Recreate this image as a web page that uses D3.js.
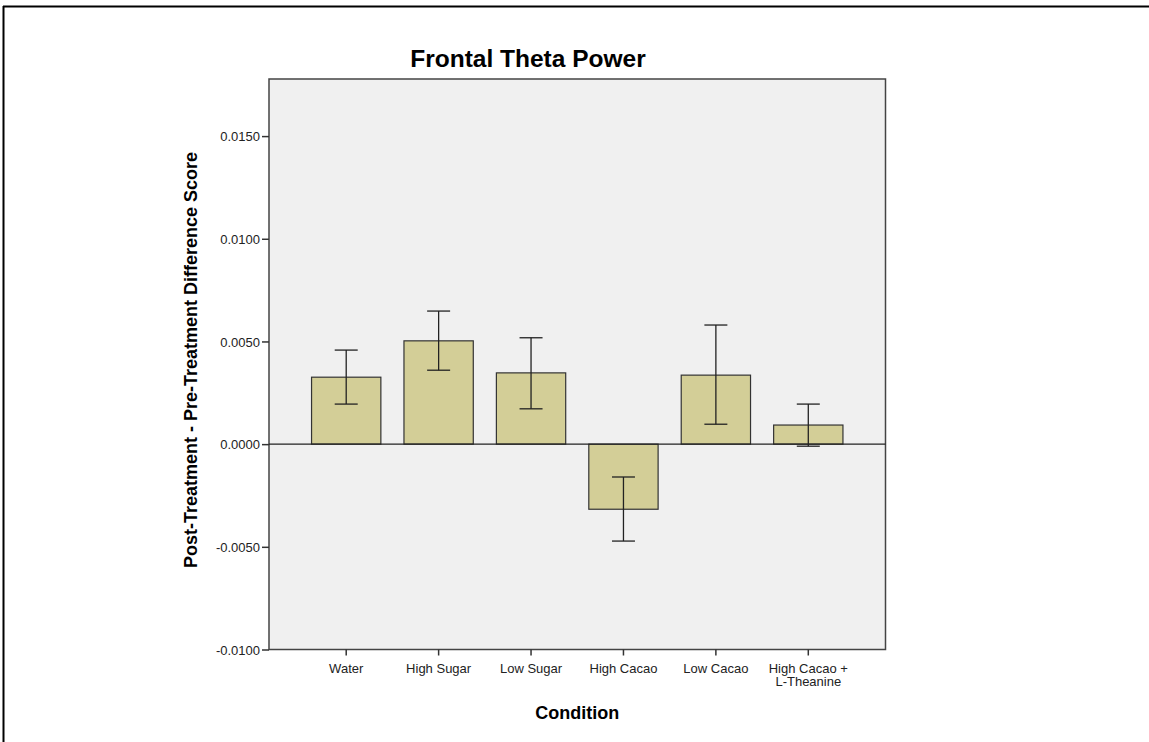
<!DOCTYPE html>
<html><head><meta charset="utf-8">
<script src="https://cdn.jsdelivr.net/npm/d3@7"></script>
<style>body{margin:0;background:#fff}svg{display:block}</style>
</head><body>
<script>
const categories = ["Water","High Sugar","Low Sugar","High Cacao","Low Cacao","High Cacao +\nL-Theanine"];
const means = [0.00326, 0.00503, 0.00347, -0.00317, 0.00336, 0.00093];
const errLow = [0.00195, 0.00360, 0.00172, -0.00472, 0.00097, -0.00010];
const errHigh = [0.00458, 0.00648, 0.00518, -0.00160, 0.00580, 0.00195];
const yTicks = [-0.0100, -0.0050, 0.0000, 0.0050, 0.0100, 0.0150];

const W = 1149, H = 742;
const svg = d3.select("body").append("svg").attr("width", W).attr("height", H);
const L = 269, R = 885.5, T = 79, B = 649.5;
const font = "Liberation Sans, Arial, sans-serif";

// outer border (top + left)
svg.append("line").attr("x1",3).attr("x2",W).attr("y1",6.5).attr("y2",6.5).attr("stroke","#000").attr("stroke-width",2);
svg.append("line").attr("x1",3.5).attr("x2",3.5).attr("y1",6).attr("y2",H).attr("stroke","#000").attr("stroke-width",2);

const y = d3.scaleLinear().domain([-0.0100, 0.01778]).range([B, T]);
const x = d3.scaleBand().domain(categories).range([L + 31, R - 31]).paddingInner(0.25).paddingOuter(0.125);

svg.append("rect").attr("x",L).attr("y",T).attr("width",R-L).attr("height",B-T)
  .attr("fill","#f0f0f0").attr("stroke","#444").attr("stroke-width",1.5);

const g = svg.append("g");
g.selectAll("rect.bar").data(categories).join("rect").attr("class","bar")
  .attr("x", d => x(d)).attr("width", x.bandwidth())
  .attr("y", (d,i) => y(Math.max(0, means[i])))
  .attr("height", (d,i) => Math.abs(y(means[i]) - y(0)))
  .attr("fill","#d3ce97").attr("stroke","#333").attr("stroke-width",1.2);

// zero line
svg.append("line").attr("x1",L).attr("x2",R).attr("y1",y(0)).attr("y2",y(0)).attr("stroke","#222").attr("stroke-width",1.2);

// error bars
const eg = svg.append("g").attr("stroke","#222").attr("stroke-width",1.3);
categories.forEach((c,i) => {
  const cx = x(c) + x.bandwidth()/2;
  eg.append("line").attr("x1",cx).attr("x2",cx).attr("y1",y(errLow[i])).attr("y2",y(errHigh[i]));
  [errLow[i], errHigh[i]].forEach(v => {
    eg.append("line").attr("x1",cx-11.5).attr("x2",cx+11.5).attr("y1",y(v)).attr("y2",y(v));
  });
});

// y axis
const fmt = v => (v < 0 ? "-" : "") + Math.abs(v).toFixed(4);
const yAxis = d3.axisLeft(y).tickValues(yTicks).tickFormat(fmt).tickSize(7).tickSizeOuter(0);
const ya = svg.append("g").attr("transform",`translate(${L},0)`).call(yAxis)
  .attr("font-family",font).attr("font-size",13);
ya.select(".domain").remove();
ya.selectAll("line").attr("stroke","#333").attr("stroke-width",1.5);
ya.selectAll("text").attr("fill","#222").attr("x",-9).attr("dy","0.35em");

// x axis
const xAxis = d3.axisBottom(x).tickSize(6).tickSizeOuter(0).tickFormat("");
const xa = svg.append("g").attr("transform",`translate(0,${B})`).call(xAxis)
  .attr("font-family",font).attr("font-size",13);
xa.select(".domain").remove();
xa.selectAll("line").attr("stroke","#333").attr("stroke-width",1.5);
xa.selectAll(".tick").each(function(d){
  const lines = d.split("\n");
  const t = d3.select(this).append("text").attr("fill","#222").attr("text-anchor","middle");
  lines.forEach((ln,k) => t.append("tspan").attr("x",0).attr("y",23.5 + k*13).text(ln));
});

// title
svg.append("text").attr("x",528).attr("y",67).attr("text-anchor","middle")
  .attr("font-family",font).attr("font-weight","bold").attr("font-size","24.5px").attr("fill","#000")
  .text("Frontal Theta Power");

// axis titles
svg.append("text").attr("x",(L+R)/2).attr("y",719).attr("text-anchor","middle")
  .attr("font-family",font).attr("font-weight","bold").attr("font-size","18px").attr("fill","#000")
  .text("Condition");
svg.append("text").attr("transform","translate(197,360) rotate(-90)").attr("text-anchor","middle")
  .attr("font-family",font).attr("font-weight","bold").attr("font-size","18px").attr("fill","#000")
  .text("Post-Treatment - Pre-Treatment Difference Score");
</script>
</body></html>
